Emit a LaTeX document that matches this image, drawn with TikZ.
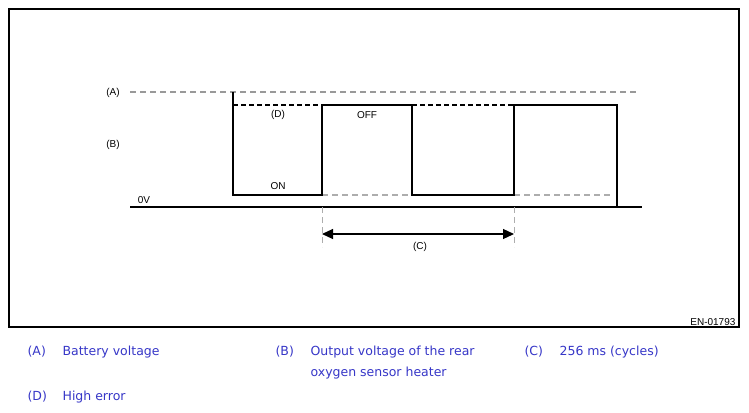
\documentclass[tikz,border=0pt]{standalone}
\usepackage{fontspec}
\setmainfont{Liberation Sans}
\newfontfamily\legendfont{DejaVu Sans}
\usetikzlibrary{positioning}
\usetikzlibrary{arrows.meta}
\colorlet{levelC}{black!40}
\colorlet{zeroC}{black!32}
\definecolor{legendC}{RGB}{55,55,200}

\begin{document}
\begin{tikzpicture}[x=1pt,y=-1pt,line width=1.2pt]
\useasboundingbox[fill=white] (0,0) rectangle (749,412);
\tikzset{lbl/.style={font=\fontsize{10}{11}\selectfont, inner sep=0pt},
  leg/.style={font=\legendfont\fontsize{12.5}{21}\selectfont, text=legendC, anchor=base west, inner sep=0pt}}

% frame
\draw (9,9) rectangle (739,327);

% waveform corners
\coordinate (a0) at (130,92);  \coordinate (a1) at (637,92);
\coordinate (p0) at (233,92);  \coordinate (p1) at (233,195);
\coordinate (p2) at (322,195); \coordinate (p3) at (322,105);
\coordinate (p4) at (412,105); \coordinate (p5) at (412,195);
\coordinate (p6) at (514,195); \coordinate (p7) at (514,105);
\coordinate (p8) at (617,105); \coordinate (p9) at (617,207);
\coordinate (z0) at (130,207); \coordinate (z1) at (642,207);
\coordinate (e0) at (612,195);
\coordinate (c0) at (322,247); \coordinate (c1) at (514,247);

\draw[levelC, dash pattern=on 6pt off 4pt] (a0) -- (a1);
\draw[dash pattern=on 5pt off 3pt] (233,105) -- (p3);
\draw[dash pattern=on 5pt off 3pt] (p4) -- (p7);
\draw[zeroC, dash pattern=on 6pt off 4pt] (p2) -- (p5);
\draw[zeroC, dash pattern=on 6pt off 4pt] (p6) -- (e0);
\draw (p0) -- (p1) -- (p2) -- (p3) -- (p4) -- (p5) -- (p6) -- (p7) -- (p8) -- (p9);
\draw (z0) -- (z1);
\draw[zeroC, dash pattern=on 6pt off 4pt, line width=1pt] (322,207) -- (c0);
\draw[zeroC, dash pattern=on 6pt off 4pt, line width=1pt] (514,207) -- (c1);
\draw[{Triangle[length=11pt,width=10pt]}-{Triangle[length=11pt,width=10pt]}] (322,234) -- (514,234);

% labels
\node[lbl] (labA) at (113,93) {(A)};
\node[lbl] (labB) at (113,145) {(B)};
\node[lbl] (labZ) at (144,200) {0V};
\node[lbl] (labD) at (278,115) {(D)};
\node[lbl] (labOff) at (367,115) {OFF};
\node[lbl] (labOn) at (278,186) {ON};
\node[lbl] (labC) at (420,247) {(C)};
\node[lbl, anchor=east] (fig) at (736,322) {EN-01793};

% legend
\node[leg] (legA) at (27,355) {(A)};
\node[leg] (legAt) at (62,355) {Battery voltage};
\node[leg] (legB) at (275,355) {(B)};
\node[leg, align=left] (legBt) at (310,376) {Output voltage of the rear\\oxygen sensor heater};
\node[leg] (legC) at (524,355) {(C)};
\node[leg] (legCt) at (559,355) {256 ms (cycles)};
\node[leg] (legD) at (27,400) {(D)};
\node[leg] (legDt) at (62,400) {High error};
\end{tikzpicture}
\end{document}
